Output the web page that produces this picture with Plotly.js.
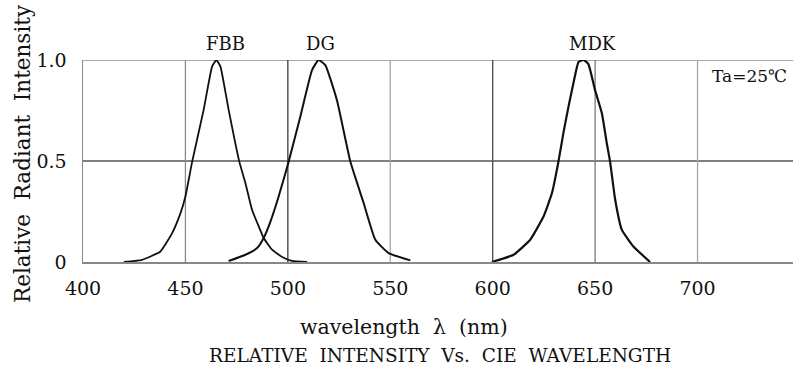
<!DOCTYPE html>
<html>
<head>
<meta charset="utf-8">
<script src="https://cdn.plot.ly/plotly-3.0.1.min.js"></script>
<style>html,body{margin:0;padding:0;background:#fff;}#chart{width:793px;height:371px;}</style>
</head>
<body>
<div id="chart"></div>
<script>
// Series data (wavelength nm, relative intensity)
var fbbX = [419.9, 428.9, 437.8, 443.5, 447.6, 450.0, 453.3, 458.9, 463.0, 465.1, 467.1, 471.1, 476.3, 479.3, 482.5, 485.8, 488.2, 492.3, 497.2, 502.0, 509.4];
var fbbY = [0.0, 0.011, 0.052, 0.143, 0.242, 0.324, 0.497, 0.753, 0.967, 1.0, 0.967, 0.753, 0.497, 0.39, 0.259, 0.176, 0.119, 0.061, 0.025, 0.006, 0.0];

var dgX = [471.1, 479.3, 485.0, 488.2, 491.5, 495.5, 500.4, 506.1, 511.8, 515.0, 518.3, 524.0, 530.5, 537.0, 542.7, 549.2, 559.8];
var dgY = [0.005, 0.036, 0.069, 0.119, 0.2, 0.324, 0.497, 0.72, 0.95, 1.0, 0.975, 0.80, 0.497, 0.292, 0.11, 0.044, 0.008];

var mdkX = [599.6, 610.2, 618.3, 624.8, 628.9, 632.1, 634.5, 637.0, 639.4, 641.9, 644.3, 646.7, 650.0, 653.3, 655.7, 657.3, 659.8, 663.0, 668.7, 676.8];
var mdkY = [0.0, 0.036, 0.11, 0.225, 0.34, 0.497, 0.638, 0.769, 0.885, 0.99, 1.0, 0.98, 0.85, 0.736, 0.588, 0.497, 0.308, 0.16, 0.077, 0.0];

var seriesNames = ["FBB", "DG", "MDK"];
var labelX = [469.5, 515.8, 648.5];

var xTicks = [400, 450, 500, 550, 600, 650, 700];
var yTicks = [0, 0.5, 1.0];
var yTickText = ["0", "0.5", "1.0"];

// Grid lines (styling)
var vGrid = [450, 500, 550, 600, 650, 700];
var vGridColor = ["#8a8a8a", "#3a3a3a", "#a8a8a8", "#4a4a4a", "#7a7a7a", "#a8a8a8"];
var hGrid = [0.5, 1.0];
var hGridColor = ["#555555", "#a8a8a8"];

var FONT = "DejaVu Serif, Liberation Serif, serif";

var shapes = [];
vGrid.forEach(function (v, i) {
  shapes.push({type: "line", xref: "x", yref: "y", x0: v, x1: v, y0: 0, y1: 1, layer: "below",
    line: {color: vGridColor[i], width: 1.3}});
});
hGrid.forEach(function (v, i) {
  shapes.push({type: "line", xref: "paper", yref: "y", x0: 0, x1: 1, y0: v, y1: v, layer: "below",
    line: {color: hGridColor[i], width: i === 1 ? 2 : 1.3}});
});

var traces = [
  {x: fbbX, y: fbbY, name: seriesNames[0], mode: "lines", line: {color: "#111", width: 1.8, shape: "spline", smoothing: 0.4}},
  {x: dgX, y: dgY, name: seriesNames[1], mode: "lines", line: {color: "#111", width: 2, shape: "spline", smoothing: 0.4}},
  {x: mdkX, y: mdkY, name: seriesNames[2], mode: "lines", line: {color: "#111", width: 2.2, shape: "spline", smoothing: 0.4}}
];

var annotations = seriesNames.map(function (n, i) {
  return {x: labelX[i], y: 1, xref: "x", yref: "y", text: n, showarrow: false,
    yanchor: "bottom", yshift: 4, font: {family: FONT, size: 18, color: "#111"}};
});
annotations.push({x: 0.995, y: 0.98, xref: "paper", yref: "paper", text: "Ta=25℃", showarrow: false,
  xanchor: "right", yanchor: "top", font: {family: FONT, size: 17, color: "#111"}});
annotations.push({x: 0.4525, y: -0.32, xref: "paper", yref: "paper", text: "wavelength  λ  (nm)", showarrow: false,
  xanchor: "center", yanchor: "middle", font: {family: FONT, size: 20.5, color: "#111"}});
annotations.push({x: -0.085, y: 0.538, xref: "paper", yref: "paper", text: "Relative  Radiant  Intensity", showarrow: false,
  textangle: -90, xanchor: "center", yanchor: "middle", font: {family: FONT, size: 21.5, color: "#111"}});

var layout = {
  width: 793, height: 371,
  margin: {l: 82.5, r: 0, t: 60, b: 108.7},
  paper_bgcolor: "#fff", plot_bgcolor: "#fff",
  showlegend: false,
  font: {family: FONT, color: "#111"},
  title: {text: "RELATIVE  INTENSITY  Vs.  CIE  WAVELENGTH", font: {family: FONT, size: 18.5, color: "#111"},
    x: 0.555, xanchor: "center", yref: "container", y: 0.043, yanchor: "middle"},
  xaxis: {range: [400, 746.6], tickvals: xTicks, ticktext: xTicks.map(String), showgrid: false, zeroline: false,
    showline: true, linecolor: "#888", linewidth: 1.5, ticks: "", ticklabelstandoff: 9,
    tickfont: {family: FONT, size: 19, color: "#111"}},
  yaxis: {range: [0, 1], tickvals: yTicks, ticktext: yTickText, showgrid: false, zeroline: false,
    showline: true, linecolor: "#888", linewidth: 1.5, ticks: "", ticklabelstandoff: 11,
    tickfont: {family: FONT, size: 19, color: "#111"}},
  shapes: shapes,
  annotations: annotations
};

Plotly.newPlot("chart", traces, layout, {displayModeBar: false, staticPlot: true});
</script>
</body>
</html>
